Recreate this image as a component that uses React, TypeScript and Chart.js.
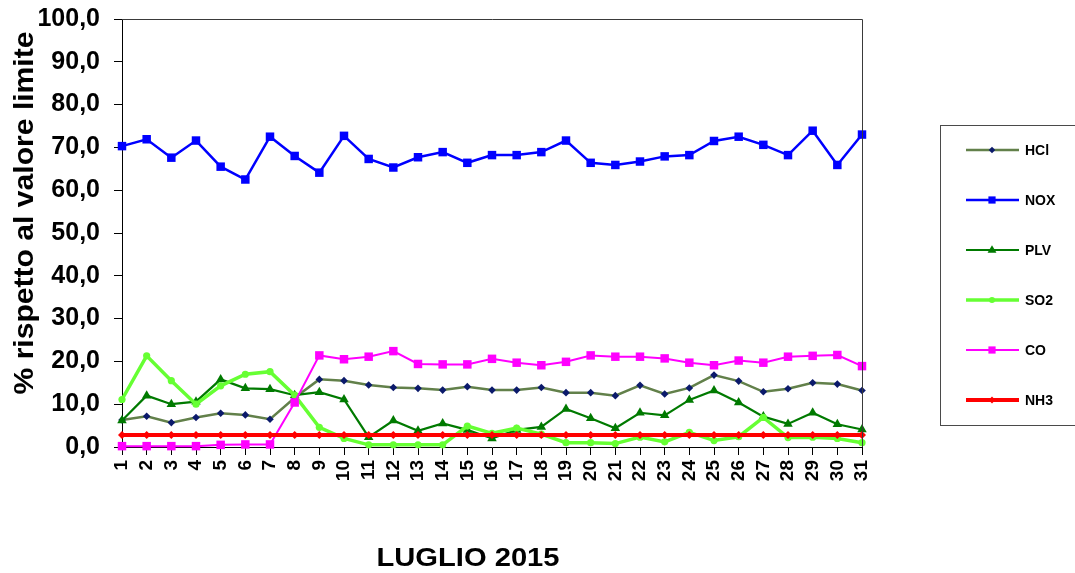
import React, { useEffect, useRef } from "react";
import { Chart, registerables } from "chart.js";

Chart.register(...registerables);

// ---- data ----
const DAYS = [
  "1", "2", "3", "4", "5", "6", "7", "8", "9", "10", "11", "12", "13", "14", "15", "16",
  "17", "18", "19", "20", "21", "22", "23", "24", "25", "26", "27", "28", "29", "30", "31",
];

const HCL = [6.3, 7.2, 5.7, 6.9, 7.9, 7.5, 6.5, 11.5, 15.8, 15.5, 14.5, 13.9, 13.7, 13.3, 14.1, 13.3,
  13.3, 13.9, 12.7, 12.7, 12.0, 14.4, 12.4, 13.8, 16.8, 15.4, 12.9, 13.6, 15.0, 14.7, 13.2];
const NOX = [70.3, 71.9, 67.6, 71.6, 65.5, 62.5, 72.5, 68.0, 64.1, 72.7, 67.3, 65.3, 67.7, 68.9, 66.4, 68.2,
  68.2, 68.9, 71.6, 66.4, 65.9, 66.7, 67.9, 68.2, 71.5, 72.5, 70.6, 68.2, 73.9, 65.9, 73.0];
const PLV = [6.2, 12.0, 10.0, 10.6, 15.8, 13.7, 13.5, 12.1, 12.8, 11.1, 2.3, 6.2, 3.8, 5.5, 4.0, 2.0,
  4.0, 4.7, 8.9, 6.7, 4.4, 8.0, 7.4, 11.0, 13.2, 10.4, 7.1, 5.4, 8.0, 5.3, 4.1];
const SO2 = [11.1, 21.3, 15.5, 10.0, 14.3, 17.0, 17.6, 12.1, 4.6, 2.0, 0.5, 0.5, 0.5, 0.5, 4.9, 3.2,
  4.4, 3.0, 1.0, 1.0, 0.8, 2.3, 1.2, 3.4, 1.5, 2.4, 6.9, 2.2, 2.3, 2.0, 1.0];
const CO = [0.2, 0.2, 0.2, 0.2, 0.5, 0.6, 0.6, 10.4, 21.4, 20.5, 21.1, 22.4, 19.4, 19.3, 19.3, 20.6,
  19.7, 19.1, 19.9, 21.4, 21.1, 21.1, 20.7, 19.7, 19.1, 20.2, 19.7, 21.1, 21.3, 21.5, 18.9];
const NH3 = [2.8, 2.8, 2.8, 2.8, 2.8, 2.8, 2.8, 2.8, 2.8, 2.8, 2.8, 2.8, 2.8, 2.8, 2.8, 2.8,
  2.8, 2.8, 2.8, 2.8, 2.8, 2.8, 2.8, 2.8, 2.8, 2.8, 2.8, 2.8, 2.8, 2.8, 2.8];

const SERIES_NAMES = ["HCl", "NOX", "PLV", "SO2", "CO", "NH3"];
const Y_TITLE = "% rispetto al valore limite";
const X_TITLE = "LUGLIO 2015";

const FONT = "'Liberation Sans', Arial, Helvetica, sans-serif";

type MarkerStyle = "rect" | "rectRot" | "triangle" | "circle";

function drawMarker(ctx: CanvasRenderingContext2D, style: MarkerStyle, x: number, y: number, r: number, color: string) {
  ctx.fillStyle = color;
  ctx.beginPath();
  if (style === "rect") {
    const s = Math.SQRT1_2 * r;
    ctx.rect(x - s, y - s, 2 * s, 2 * s);
  } else if (style === "rectRot") {
    ctx.moveTo(x, y - r);
    ctx.lineTo(x + r, y);
    ctx.lineTo(x, y + r);
    ctx.lineTo(x - r, y);
    ctx.closePath();
  } else if (style === "triangle") {
    ctx.moveTo(x, y - r);
    ctx.lineTo(x + r * 0.866 * 1.1, y + r * 0.6);
    ctx.lineTo(x - r * 0.866 * 1.1, y + r * 0.6);
    ctx.closePath();
  } else {
    ctx.arc(x, y, r, 0, Math.PI * 2);
  }
  ctx.fill();
}

const decorPlugin = {
  id: "decor",
  afterDraw(chart: any) {
    const { ctx } = chart;
    const { left, right, top, bottom } = chart.chartArea;
    ctx.save();
    // plot frame (top + right)
    ctx.strokeStyle = "#3a3a3a";
    ctx.lineWidth = 1;
    ctx.beginPath();
    ctx.moveTo(left, Math.round(top) + 0.5);
    ctx.lineTo(Math.round(right) + 0.5, Math.round(top) + 0.5);
    ctx.lineTo(Math.round(right) + 0.5, bottom);
    ctx.stroke();

    // legend box
    const lx = Math.round(right) + 78;
    const ly = Math.round(top) + 106;
    ctx.strokeStyle = "#4a4a4a";
    ctx.lineWidth = 1;
    ctx.strokeRect(lx + 0.5, ly + 0.5, 220, 300);
    chart.data.datasets.forEach((ds: any, i: number) => {
      const y = ly + 25 + i * 50;
      ctx.strokeStyle = ds.borderColor;
      ctx.lineWidth = ds.borderWidth;
      ctx.beginPath();
      ctx.moveTo(lx + 26, y);
      ctx.lineTo(lx + 79, y);
      ctx.stroke();
      drawMarker(ctx, ds.pointStyle, lx + 52, y, ds.pointRadius * 0.85, ds.pointBackgroundColor);
      ctx.fillStyle = "#000";
      ctx.font = `bold 14px ${FONT}`;
      ctx.textAlign = "left";
      ctx.textBaseline = "middle";
      ctx.fillText(ds.label, lx + 85, y + 1);
    });

    // y-axis title
    ctx.fillStyle = "#000";
    ctx.font = `bold 27px ${FONT}`;
    ctx.textAlign = "center";
    ctx.textBaseline = "alphabetic";
    let w = ctx.measureText(Y_TITLE).width;
    ctx.save();
    ctx.translate(left - 89, (top + bottom) / 2 - 20);
    ctx.rotate(-Math.PI / 2);
    ctx.scale(363 / w, 1);
    ctx.fillText(Y_TITLE, 0, 0);
    ctx.restore();

    // x-axis title
    ctx.font = `bold 26px ${FONT}`;
    w = ctx.measureText(X_TITLE).width;
    ctx.save();
    ctx.translate((left + right) / 2 - 24, bottom + 119);
    ctx.scale(183 / w, 1);
    ctx.fillText(X_TITLE, 0, 0);
    ctx.restore();

    ctx.restore();
  },
};

export default function App() {
  const canvasRef = useRef<HTMLCanvasElement | null>(null);

  useEffect(() => {
    document.body.style.margin = "0";
    const canvas = canvasRef.current;
    if (!canvas) return;

    const mk = (
      label: string,
      data: number[],
      color: string,
      width: number,
      style: MarkerStyle,
      radius: number,
      markerColor: string,
      order: number
    ) => ({
      label,
      data,
      borderColor: color,
      backgroundColor: color,
      borderWidth: width,
      pointStyle: style,
      pointRadius: radius,
      pointBackgroundColor: markerColor,
      pointBorderColor: markerColor,
      pointBorderWidth: 0,
      tension: 0,
      fill: false,
      clip: false as any,
      order,
    });

    const chart = new Chart(canvas, {
      type: "line",
      data: {
        labels: DAYS,
        datasets: [
          mk(SERIES_NAMES[0], HCL, "#62804A", 2.5, "rectRot", 3.8, "#0B1A6B", 5),
          mk(SERIES_NAMES[1], NOX, "#0000FF", 2.5, "rect", 6, "#0000FF", 4),
          mk(SERIES_NAMES[2], PLV, "#007A00", 2.2, "triangle", 5.5, "#007A00", 3),
          mk(SERIES_NAMES[3], SO2, "#66FF33", 3.5, "circle", 3.6, "#66FF33", 2),
          mk(SERIES_NAMES[4], CO, "#FF00FF", 2, "rect", 6, "#FF00FF", 1),
          mk(SERIES_NAMES[5], NH3, "#FF0000", 4, "rectRot", 4, "#FF0000", 0),
        ],
      },
      options: {
        responsive: false,
        animation: false,
        devicePixelRatio: 1,
        layout: { padding: { top: 19, right: 213, bottom: 0, left: 0 } },
        plugins: {
          legend: { display: false },
          tooltip: { enabled: false },
          title: { display: false },
        },
        scales: {
          x: {
            type: "category",
            offset: false,
            grid: {
              display: true,
              drawOnChartArea: false,
              drawTicks: true,
              tickLength: 8,
              color: "#000",
            },
            border: { display: true, color: "#000", width: 1 },
            ticks: {
              autoSkip: false,
              minRotation: 90,
              maxRotation: 90,
              padding: 5,
              color: "#000",
              font: { family: FONT, size: 19, weight: "bold" },
            },
            afterFit: (scale: any) => {
              scale.height = 126;
              scale.paddingLeft = 0;
              scale.paddingRight = 0;
            },
          },
          y: {
            min: 0,
            max: 100,
            grid: {
              display: true,
              drawOnChartArea: false,
              drawTicks: true,
              tickLength: 8,
              color: "#000",
            },
            border: { display: true, color: "#000", width: 1 },
            ticks: {
              stepSize: 10,
              padding: 14,
              color: "#000",
              font: { family: FONT, size: 25, weight: "bold" },
              callback: (v: any) => Number(v).toFixed(1).replace(".", ","),
            },
            afterFit: (scale: any) => {
              scale.width = 122;
              scale.paddingTop = 0;
              scale.paddingBottom = 0;
            },
          },
        },
      } as any,
      plugins: [decorPlugin],
    });

    return () => chart.destroy();
  }, []);

  return (
    <div style={{ width: 1075, height: 573, position: "relative", background: "#fff" }}>
      <canvas ref={canvasRef} width={1075} height={573} style={{ display: "block" }} />
    </div>
  );
}
